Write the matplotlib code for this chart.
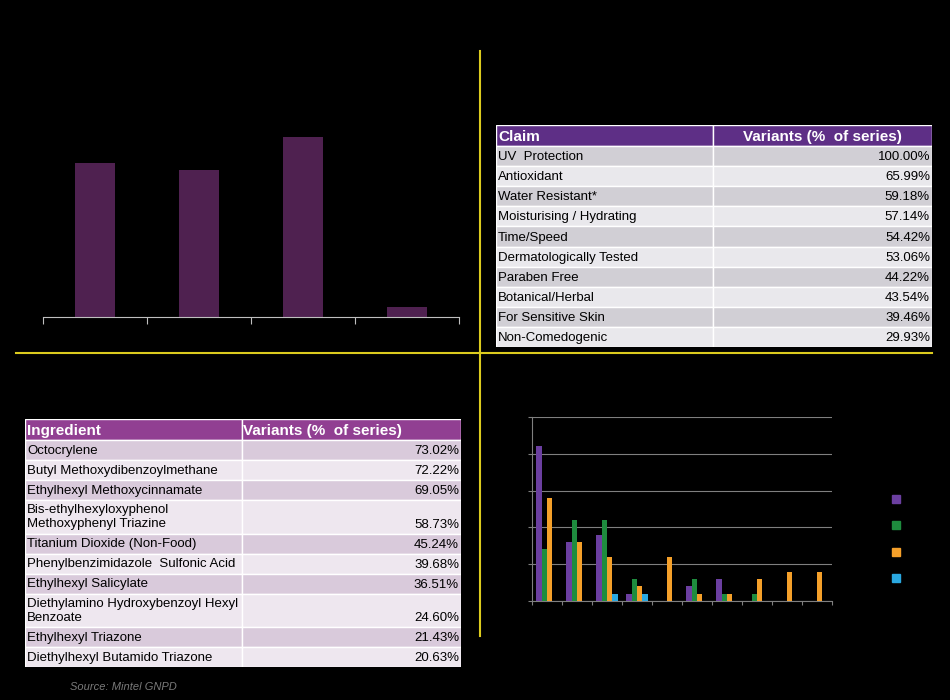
import matplotlib
matplotlib.use("Agg")
import matplotlib.pyplot as plt
from matplotlib.patches import Rectangle
from matplotlib.lines import Line2D
import numpy as np

plt.rcParams['font.family'] = ['Liberation Sans', 'DejaVu Sans']

# ---- data ----
# top-left chart: 4 categories, no visible labels
top_bar_values = [42.8, 40.8, 50.0, 2.8]

# top-right table
claim_header = ["Claim", "Variants (%  of series)"]
claims = ["UV  Protection", "Antioxidant", "Water Resistant*", "Moisturising / Hydrating",
          "Time/Speed", "Dermatologically Tested", "Paraben Free", "Botanical/Herbal",
          "For Sensitive Skin", "Non-Comedogenic"]
claim_pct = [100.00, 65.99, 59.18, 57.14, 54.42, 53.06, 44.22, 43.54, 39.46, 29.93]

# bottom-left table
ingr_header = ["Ingredient", "Variants (%  of series)"]
ingredients = ["Octocrylene", "Butyl Methoxydibenzoylmethane", "Ethylhexyl Methoxycinnamate",
               "Bis-ethylhexyloxyphenol\nMethoxyphenyl Triazine", "Titanium Dioxide (Non-Food)",
               "Phenylbenzimidazole  Sulfonic Acid", "Ethylhexyl Salicylate",
               "Diethylamino Hydroxybenzoyl Hexyl\nBenzoate", "Ethylhexyl Triazone",
               "Diethylhexyl Butamido Triazone"]
ingr_pct = [73.02, 72.22, 69.05, 58.73, 45.24, 39.68, 36.51, 24.60, 21.43, 20.63]

# bottom-right grouped chart: 10 categories x 4 series
series_a = [21, 8, 9, 1, 0, 2, 3, 0, 0, 0]
series_b = [7, 11, 11, 3, 0, 3, 1, 1, 0, 0]
series_c = [14, 8, 6, 2, 6, 1, 1, 3, 4, 4]
series_d = [0, 0, 1, 1, 0, 0, 0, 0, 0, 0]
series_colors = ['#6B3FA0', '#1E8C3E', '#F5A02A', '#2AA8E0']

W, H = 950, 700
fig = plt.figure(figsize=(9.5, 7), dpi=100, facecolor='black')


def px_axes(left, top, right, bottom):
    return fig.add_axes([left / W, 1 - bottom / H, (right - left) / W, (bottom - top) / H])


# ---- divider lines ----
yellow = '#DCCB1E'
fig.add_artist(Line2D([480 / W, 480 / W], [1 - 51 / H, 1 - 636 / H], color=yellow, lw=1.5))
fig.add_artist(Line2D([16 / W, 932 / W], [1 - 353 / H, 1 - 353 / H], color=yellow, lw=1.5))

# ---- top-left bar chart ----
ax1 = px_axes(43, 117, 459, 317)
ax1.set_facecolor('black')
x1 = np.arange(len(top_bar_values)) + 0.5
ax1.bar(x1, top_bar_values, width=0.39, color='#4F2150')
ax1.set_xlim(0, len(top_bar_values))
ax1.set_ylim(0, 55.6)
for s in ['top', 'right', 'left']:
    ax1.spines[s].set_visible(False)
ax1.spines['bottom'].set_color('#BFBFBF')
ax1.set_xticks(np.arange(len(top_bar_values) + 1))
ax1.set_xticklabels([])
ax1.set_yticks([])
ax1.tick_params(axis='x', direction='out', length=5, color='#BFBFBF')


# ---- tables ----
def draw_table(ax, header, names, pcts, hdr_color, row_colors, center_hdr2):
    width = 436
    split = 217
    hdr_h = 21
    heights = [20 if '\n' not in n else 33.5 for n in names]
    total = hdr_h + sum(heights)
    ax.set_xlim(0, width)
    ax.set_ylim(total, 0)
    ax.axis('off')
    # header
    ax.add_patch(Rectangle((0, 0), split, hdr_h, facecolor=hdr_color, edgecolor='white', lw=1))
    ax.add_patch(Rectangle((split, 0), width - split, hdr_h, facecolor=hdr_color, edgecolor='white', lw=1))
    ax.text(2, hdr_h / 2 + 1, header[0], color='white', fontsize=11, fontweight='bold', va='center', ha='left')
    if center_hdr2:
        ax.text((split + width) / 2, hdr_h / 2 + 1, header[1], color='white', fontsize=11,
                fontweight='bold', va='center', ha='center')
    else:
        ax.text(split + 1, hdr_h / 2 + 1, header[1], color='white', fontsize=11,
                fontweight='bold', va='center', ha='left')
    y = hdr_h
    for i, (n, p, h) in enumerate(zip(names, pcts, heights)):
        c = row_colors[i % 2]
        ax.add_patch(Rectangle((0, y), split, h, facecolor=c, edgecolor='white', lw=1))
        ax.add_patch(Rectangle((split, y), width - split, h, facecolor=c, edgecolor='white', lw=1))
        ax.text(2, y + h - 3, n, color='black', fontsize=9.5, va='bottom', ha='left', linespacing=1.25)
        ax.text(width - 2, y + h - 3, f"{p:.2f}%", color='black', fontsize=9.5, va='bottom', ha='right')
        y += h


ax2 = px_axes(496, 125, 932, 347)
draw_table(ax2, claim_header, claims, claim_pct, '#5E2F86', ['#D1CFD5', '#E9E8EC'], True)

ax3 = px_axes(25, 419, 461, 667)
draw_table(ax3, ingr_header, ingredients, ingr_pct, '#913F92', ['#D9CADB', '#EEE7EF'], False)

fig.text(70 / W, 1 - 687 / H, "Source: Mintel GNPD", color='#7A7A7A', fontsize=8,
         style='italic', va='center', ha='left')

# ---- bottom-right grouped bar chart ----
ax4 = px_axes(532, 417, 832, 601)
ax4.set_facecolor('black')
all_series = [series_a, series_b, series_c, series_d]
n_cat = len(series_a)
bw = 0.18
xc = np.arange(n_cat) + 0.5
handles = []
for k, (vals, col) in enumerate(zip(all_series, series_colors)):
    ax4.bar(xc + (k - 1.5) * bw, vals, width=bw, color=col, zorder=3)
    handles.append(Line2D([], [], marker='s', linestyle='', color=col, markersize=6))
ax4.set_xlim(0, n_cat)
ax4.set_ylim(0, 25)
ax4.set_yticks(np.arange(0, 26, 5))
ax4.set_xticks(np.arange(n_cat + 1))
ax4.set_xticklabels([])
ax4.set_yticklabels([])
ax4.grid(axis='y', color='#7F7F7F', lw=0.8, zorder=0)
ax4.set_axisbelow(True)
for s in ['top', 'right']:
    ax4.spines[s].set_visible(False)
for s in ['left', 'bottom']:
    ax4.spines[s].set_color('#7F7F7F')
ax4.tick_params(direction='out', length=3, color='#7F7F7F')

fig.legend(handles, ['', '', '', ''], loc='center', bbox_to_anchor=(896 / W, 1 - 540 / H),
           frameon=False, fontsize=10, handlelength=1, handleheight=1, handletextpad=0,
           labelspacing=0.87, borderpad=0, labelcolor='black')

fig.savefig('out.png', dpi=100, facecolor='black')
